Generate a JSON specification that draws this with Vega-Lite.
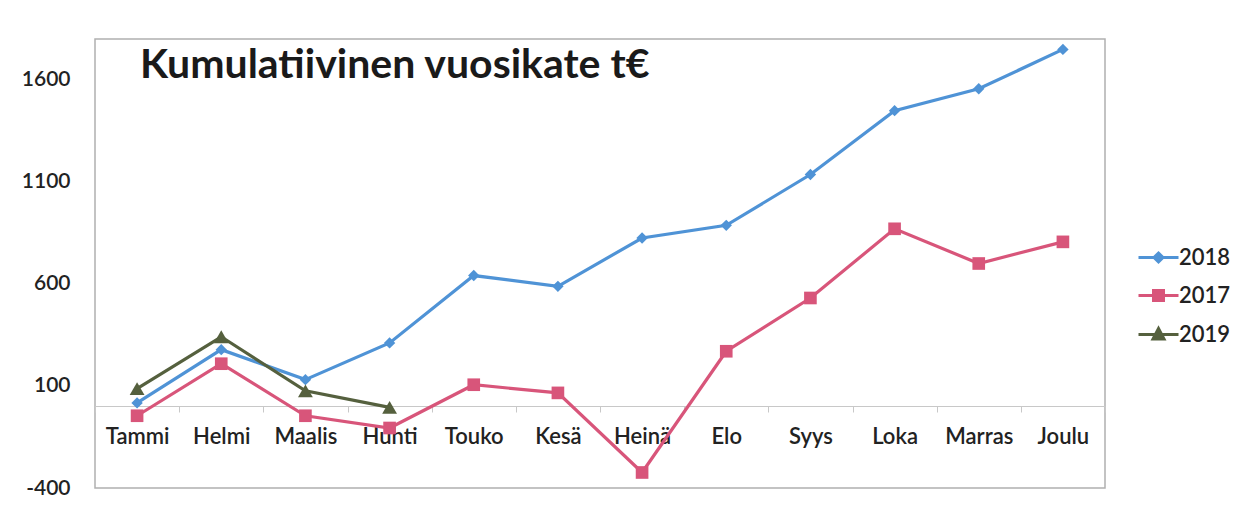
{
  "$schema": "https://vega.github.io/schema/vega-lite/v6.json",
  "autosize": {"type": "none"},
  "padding": {"left": 95, "top": 39, "right": 142, "bottom": 19},
  "width": 1010,
  "height": 449,
  "background": "white",
  "title": {
    "text": "Kumulatiivinen vuosikate t€",
    "anchor": "start",
    "frame": "group",
    "offset": 0,
    "dx": 45,
    "dy": 80,
    "baseline": "alphabetic",
    "font": "Lato",
    "fontSize": 41,
    "fontWeight": "bold",
    "color": "#1a1a1a"
  },
  "data": {
    "values": [
      {"kk": "Tammi", "vuosi": "2018", "arvo": 17},
      {"kk": "Helmi", "vuosi": "2018", "arvo": 278},
      {"kk": "Maalis", "vuosi": "2018", "arvo": 131},
      {"kk": "Huhti", "vuosi": "2018", "arvo": 311},
      {"kk": "Touko", "vuosi": "2018", "arvo": 641},
      {"kk": "Kesä", "vuosi": "2018", "arvo": 588},
      {"kk": "Heinä", "vuosi": "2018", "arvo": 825},
      {"kk": "Elo", "vuosi": "2018", "arvo": 887},
      {"kk": "Syys", "vuosi": "2018", "arvo": 1136},
      {"kk": "Loka", "vuosi": "2018", "arvo": 1449},
      {"kk": "Marras", "vuosi": "2018", "arvo": 1556},
      {"kk": "Joulu", "vuosi": "2018", "arvo": 1749},
      {"kk": "Tammi", "vuosi": "2017", "arvo": -46},
      {"kk": "Helmi", "vuosi": "2017", "arvo": 209},
      {"kk": "Maalis", "vuosi": "2017", "arvo": -46},
      {"kk": "Huhti", "vuosi": "2017", "arvo": -106},
      {"kk": "Touko", "vuosi": "2017", "arvo": 106},
      {"kk": "Kesä", "vuosi": "2017", "arvo": 66},
      {"kk": "Heinä", "vuosi": "2017", "arvo": -324},
      {"kk": "Elo", "vuosi": "2017", "arvo": 270},
      {"kk": "Syys", "vuosi": "2017", "arvo": 531},
      {"kk": "Loka", "vuosi": "2017", "arvo": 870},
      {"kk": "Marras", "vuosi": "2017", "arvo": 700},
      {"kk": "Joulu", "vuosi": "2017", "arvo": 806},
      {"kk": "Tammi", "vuosi": "2019", "arvo": 87},
      {"kk": "Helmi", "vuosi": "2019", "arvo": 341},
      {"kk": "Maalis", "vuosi": "2019", "arvo": 76},
      {"kk": "Huhti", "vuosi": "2019", "arvo": -5}
    ]
  },
  "encoding": {
    "x": {
      "field": "kk",
      "type": "nominal",
      "sort": ["Tammi", "Helmi", "Maalis", "Huhti", "Touko", "Kesä", "Heinä", "Elo", "Syys", "Loka", "Marras", "Joulu"],
      "scale": {"paddingInner": 0, "paddingOuter": 0},
      "axis": {
        "title": null,
        "offset": -82,
        "labelAngle": 0,
        "tickBand": "extent",
        "domainColor": "#c8c8c8",
        "tickColor": "#c8c8c8",
        "tickSize": 6,
        "labelPadding": 14,
        "labelFont": "Lato",
        "labelFontSize": 22,
        "labelFontWeight": 600,
        "labelColor": "#222222"
      }
    },
    "y": {
      "field": "arvo",
      "type": "quantitative",
      "scale": {"domain": [-400, 1800], "nice": false, "zero": false},
      "axis": {
        "title": null,
        "values": [-400, 100, 600, 1100, 1600],
        "labelExpr": "'' + datum.value",
        "grid": false,
        "domain": false,
        "ticks": false,
        "labelPadding": 25,
        "labelFont": "Lato",
        "labelFontSize": 21,
        "labelFontWeight": 600,
        "labelColor": "#222222"
      }
    },
    "color": {
      "field": "vuosi",
      "type": "nominal",
      "scale": {"domain": ["2018", "2017", "2019"], "range": ["#4f93d6", "#d8557a", "#55603e"]},
      "legend": {
        "title": null,
        "orient": "none",
        "legendX": 1052,
        "legendY": 207,
        "symbolSize": 400,
        "symbolStrokeWidth": 3,
        "labelOffset": 9,
        "rowPadding": 15,
        "labelFont": "Lato",
        "labelFontSize": 22,
        "labelFontWeight": 600,
        "labelColor": "#222222",
        "encode": {
          "symbols": {
            "update": {
              "shape": {"signal": "datum.value === '2018' ? 'M-2,0H2M0,-0.45L0.45,0L0,0.45L-0.45,0Z' : datum.value === '2017' ? 'M-2,0H2M-0.5,-0.5H0.5V0.5H-0.5Z' : 'M-2,0H2M0,-0.6L0.55,0.45H-0.55Z'"},
              "fill": {"scale": "color", "field": "value"},
              "stroke": {"scale": "color", "field": "value"},
              "strokeWidth": {"value": 3},
              "opacity": {"value": 1}
            }
          }
        }
      }
    }
  },
  "layer": [
    {"mark": {"type": "line", "strokeWidth": 3.2}},
    {
      "transform": [{"filter": "datum.vuosi === '2018'"}],
      "mark": {"type": "point", "filled": true, "opacity": 1, "shape": "diamond", "size": 130}
    },
    {
      "transform": [{"filter": "datum.vuosi === '2017'"}],
      "mark": {"type": "point", "filled": true, "opacity": 1, "shape": "square", "size": 160}
    },
    {
      "transform": [{"filter": "datum.vuosi === '2019'"}],
      "mark": {"type": "point", "filled": true, "opacity": 1, "shape": "triangle-up", "size": 220}
    }
  ],
  "config": {
    "view": {"stroke": "#b0b0b0", "strokeWidth": 1.5}
  }
}
